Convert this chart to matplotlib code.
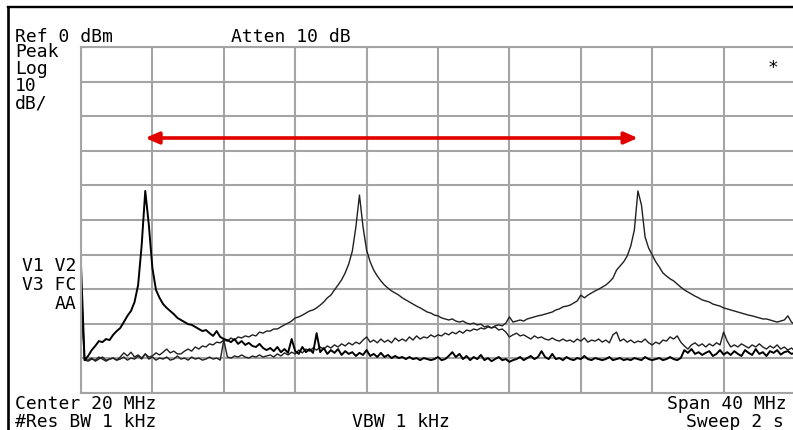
import numpy as np
import matplotlib
matplotlib.use("Agg")
import matplotlib.pyplot as plt
from matplotlib.lines import Line2D

# Instrument settings
CENTER_MHZ = 20.0
SPAN_MHZ = 40.0
REF_DBM = 0.0
DB_PER_DIV = 10.0

# Swept traces (dBm), one reading per sweep point from start to stop frequency
trace_a = [
    -63.0, -90.5, -89.3, -87.6, -86.4, -85.0, -85.3, -84.4, -84.7, -83.2,
    -82.1, -81.2, -79.5, -77.7, -76.3, -73.7, -68.8, -57.2, -41.6, -51.4,
    -63.9, -70.2, -72.5, -74.3, -75.4, -76.3, -77.2, -78.3, -78.9, -79.5,
    -80.1, -80.3, -80.9, -81.5, -82.1, -81.8, -82.7, -83.5, -82.1, -83.8,
    -84.4, -84.7, -85.3, -84.4, -85.8, -85.0, -86.1, -85.5, -86.4, -86.7,
    -85.8, -87.0, -87.6, -87.0, -87.9, -86.7, -88.2, -87.3, -88.4, -84.4,
    -87.9, -88.7, -86.7, -88.2, -87.3, -88.4, -82.7, -88.2, -87.0, -88.7,
    -87.6, -88.4, -87.3, -89.0, -87.9, -88.7, -88.2, -89.3, -88.4, -89.0,
    -87.6, -89.3, -88.7, -89.6, -88.4, -89.6, -89.0, -89.9, -89.3, -89.9,
    -89.6, -90.2, -89.6, -90.2, -89.9, -90.5, -89.9, -90.2, -90.5, -90.2,
    -89.6, -90.5, -90.2, -89.3, -88.2, -89.6, -88.7, -90.2, -89.3, -90.5,
    -89.6, -90.2, -89.0, -90.5, -89.9, -90.8, -90.2, -89.6, -90.5, -90.2,
    -91.0, -90.5, -90.2, -89.6, -90.5, -89.9, -89.3, -90.2, -89.6, -87.9,
    -89.6, -90.2, -88.7, -90.2, -89.9, -90.5, -89.6, -90.2, -90.5, -89.9,
    -90.2, -89.3, -90.2, -90.5, -89.9, -90.2, -90.5, -90.2, -89.6, -90.5,
    -90.2, -89.9, -90.5, -90.2, -90.5, -89.9, -90.2, -90.5, -89.6, -90.2,
    -90.5, -90.2, -89.9, -90.5, -90.2, -89.6, -90.2, -90.5, -89.9, -87.6,
    -88.4, -87.3, -88.7, -88.2, -89.0, -88.4, -87.9, -89.3, -88.7, -87.6,
    -88.9, -88.2, -89.0, -87.9, -88.7, -89.3, -87.6, -88.4, -89.0, -87.3,
    -88.7, -88.2, -89.3, -87.9, -88.4, -87.6, -88.9, -88.2, -87.9, -88.7,
    -88.4,
]

trace_b = [
    -68.0, -90.2, -90.5, -89.9, -90.8, -90.2, -89.6, -90.5, -90.2, -89.9,
    -90.5, -89.6, -88.4, -89.3, -88.2, -89.6, -89.0, -89.9, -88.7, -89.6,
    -89.3, -88.4, -89.0, -88.2, -87.3, -88.4, -87.9, -88.7, -88.7, -87.9,
    -87.3, -87.9, -86.7, -87.3, -86.4, -86.7, -85.8, -86.1, -85.3, -85.5,
    -84.7, -85.0, -84.1, -84.7, -83.8, -84.1, -83.5, -83.8, -83.2, -83.5,
    -82.4, -82.7, -82.1, -82.1, -81.5, -81.5, -80.9, -80.3, -79.8, -79.2,
    -78.3, -78.0, -77.5, -76.9, -76.3, -76.0, -75.4, -74.6, -73.7, -72.5,
    -71.7, -70.2, -68.8, -67.3, -65.3, -62.7, -59.0, -52.0, -42.8, -52.0,
    -58.7, -62.1, -64.5, -66.2, -67.6, -68.8, -69.7, -70.5, -71.1, -71.7,
    -72.5, -73.1, -73.7, -74.3, -74.9, -75.4, -76.0, -76.6, -76.9, -77.5,
    -77.7, -78.3, -78.6, -78.9, -78.6, -79.2, -79.5, -79.2, -79.8, -80.1,
    -79.8, -80.3, -80.1, -80.9, -80.6, -81.2, -80.9, -81.8, -81.5, -82.4,
    -83.8, -83.2, -82.7, -83.5, -83.2, -83.8, -84.4, -83.5, -84.1, -83.8,
    -84.4, -84.7, -84.1, -84.7, -85.0, -84.4, -85.0, -84.7, -85.3, -84.4,
    -85.0, -84.1, -85.3, -84.7, -85.0, -84.4, -85.3, -84.7, -85.5, -83.2,
    -82.4, -85.0, -84.4, -85.3, -84.7, -85.5, -85.0, -85.3, -84.4, -85.5,
    -86.1, -85.3, -85.8, -84.7, -85.0, -83.8, -84.4, -83.5, -85.3, -86.4,
    -87.3, -86.1, -85.5, -86.4, -85.8, -86.7, -85.8, -86.4, -85.5, -86.1,
    -82.4, -85.0, -86.7, -86.1, -86.7, -85.8, -86.4, -87.0, -86.1, -86.7,
    -85.8, -86.7, -87.3, -86.4, -87.0, -86.1, -87.3, -86.7, -87.6, -87.0,
    -87.9,
]

trace_c = [
    -75.0, -90.5, -90.8, -90.2, -90.5, -89.6, -90.2, -90.8, -90.2, -89.9,
    -90.5, -90.2, -89.6, -90.5, -89.9, -90.2, -89.3, -90.2, -88.7, -90.2,
    -89.6, -90.5, -89.9, -90.2, -89.6, -90.5, -90.2, -89.3, -90.2, -89.9,
    -90.5, -89.6, -90.2, -89.9, -90.5, -90.2, -89.6, -90.2, -89.9, -90.5,
    -84.7, -89.6, -89.9, -89.3, -89.6, -89.0, -89.6, -89.9, -89.3, -89.6,
    -89.0, -89.6, -89.3, -89.0, -89.6, -88.7, -89.3, -88.4, -89.0, -88.2,
    -88.7, -87.6, -88.4, -87.3, -87.9, -87.0, -87.6, -86.7, -87.3, -86.4,
    -87.0, -86.1, -86.7, -85.8, -86.4, -85.5, -86.1, -85.3, -85.8, -84.7,
    -83.8, -85.3, -84.7, -85.5, -84.4, -85.3, -84.7, -85.5, -84.1, -85.0,
    -84.4, -85.0, -83.8, -84.7, -83.5, -84.4, -83.8, -84.1, -83.2, -83.8,
    -83.2, -83.5, -82.7, -83.2, -82.4, -82.9, -82.1, -82.7, -81.8, -82.1,
    -81.5, -81.8, -81.2, -81.5, -80.9, -81.2, -80.6, -80.3, -80.6, -79.8,
    -78.0, -79.5, -79.2, -78.9, -79.2, -78.6, -78.3, -78.0, -77.7, -77.5,
    -77.2, -76.9, -76.6, -76.0, -75.7, -75.1, -74.9, -74.6, -74.0, -73.4,
    -71.7, -72.5, -71.7, -71.1, -70.5, -70.0, -69.4, -68.8, -67.9, -66.8,
    -64.5, -63.3, -62.1, -60.4, -57.5, -52.9, -41.6, -45.7, -54.9, -58.1,
    -60.1, -62.1, -63.6, -65.3, -66.2, -67.0, -67.6, -68.5, -69.4, -70.2,
    -70.8, -71.4, -72.0, -72.5, -73.1, -73.4, -73.7, -74.3, -74.6, -74.9,
    -75.4, -75.7, -76.0, -76.3, -76.6, -76.9, -77.2, -77.5, -77.7, -78.0,
    -78.3, -78.6, -78.6, -78.9, -79.2, -79.5, -79.2, -78.9, -77.7, -79.5,
    -80.3,
]

# Screen annotations: (text, x px, last-line baseline y px, alignment, line spacing)
header_labels = [
    ("Ref 0 dBm", 15, 42, "left", 1.2),
    ("Atten 10 dB", 231, 42, "left", 1.2),
    ("Peak\nLog\n10\ndB/", 15, 108, "left", 0.94),
    ("V1 V2\nV3 FC\nAA", 76, 309, "right", 1.06),
    ("Center 20 MHz", 15, 409, "left", 1.2),
    ("#Res BW 1 kHz", 15, 427, "left", 1.2),
    ("VBW 1 kHz", 352, 427, "left", 1.2),
    ("Span 40 MHz", 787, 409, "right", 1.2),
    ("Sweep 2 s", 784, 427, "right", 1.2),
]

W, H = 793, 430
fig = plt.figure(figsize=(W / 100, H / 100), dpi=100)
fig.patch.set_facecolor("white")

# Graticule: 10 x 10 divisions
gx0, gx1, gy0, gy1 = 81, 795, 47, 393
ax = fig.add_axes([gx0 / W, 1 - gy1 / H, (gx1 - gx0) / W, (gy1 - gy0) / H])
start = CENTER_MHZ - SPAN_MHZ / 2
stop = CENTER_MHZ + SPAN_MHZ / 2
ax.set_xlim(start, stop)
ax.set_ylim(REF_DBM - 10 * DB_PER_DIV, REF_DBM)
ax.set_xticks(np.linspace(start, stop, 11))
ax.set_yticks(np.linspace(REF_DBM - 10 * DB_PER_DIV, REF_DBM, 11))
ax.tick_params(length=0, labelbottom=False, labelleft=False)
grid_col = "#a4a4a4"
ax.grid(True, color=grid_col, linewidth=1.5)
ax.set_axisbelow(True)
for sp in ax.spines.values():
    sp.set_color(grid_col)
    sp.set_linewidth(1.5)

freq = np.linspace(start, stop, len(trace_a))
ax.plot(freq, trace_c, color="#202020", linewidth=1.0)
ax.plot(freq, trace_b, color="#202020", linewidth=1.0)
ax.plot(freq, trace_a, color="#000000", linewidth=1.4)

# Double-headed marker between the outer two carriers
f_left = freq[int(np.argmax(trace_a))]
f_right = freq[int(np.argmax(trace_c))]
ARROW_LEVEL = -26.3
ax.annotate("", xy=(f_right, ARROW_LEVEL), xytext=(f_left, ARROW_LEVEL),
            arrowprops=dict(arrowstyle="<|-|>,head_length=0.8,head_width=0.35",
                            color="#e00000", lw=2.6, shrinkA=0, shrinkB=0))

# Screen texts
mono = "DejaVu Sans Mono"
for text, x, y, ha, ls in header_labels:
    fig.text(x / W, 1 - y / H, text, ha=ha, va="baseline", multialignment=ha,
             linespacing=ls, fontsize=13, family=mono, color="black")
fig.text(773 / W, 1 - 67.5 / H, "*", ha="center", va="center",
         fontsize=13, family=mono, color="black")

# Display bezel lines
fig.add_artist(Line2D([8 / W, 8 / W], [0, 1 - 7 / H], transform=fig.transFigure,
                      color="black", linewidth=1.9))
fig.add_artist(Line2D([8 / W, 1], [1 - 7 / H, 1 - 7 / H], transform=fig.transFigure,
                      color="black", linewidth=1.7))

fig.savefig("out.png", dpi=100, facecolor="white")
